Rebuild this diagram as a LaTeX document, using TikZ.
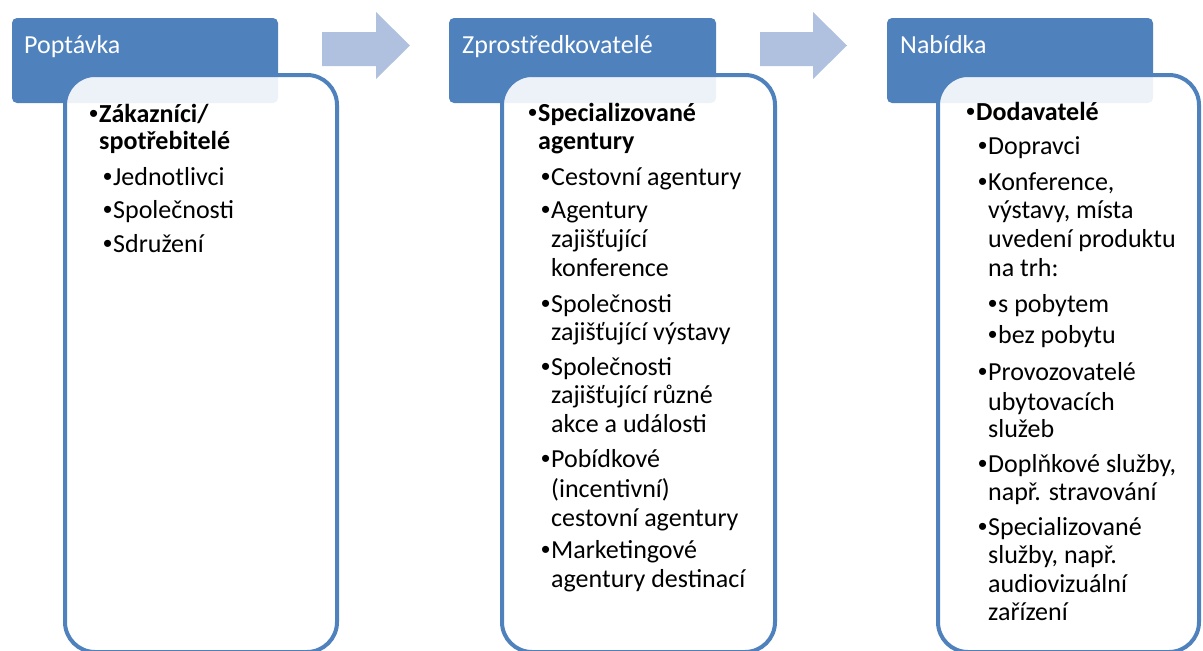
\documentclass[tikz,border=0pt]{standalone}
\usepackage{fontspec}
\setmainfont{Carlito}
\newfontfamily\bulfont{Liberation Sans}
\definecolor{hdr}{HTML}{4F81BD}
\definecolor{arr}{HTML}{AFC1DE}
\newcommand{\bul}{\makebox[10pt][l]{\bulfont\mdseries•}}
\begin{document}
\begin{tikzpicture}[x=1pt,y=-1pt,
  hdrbox/.style={fill=hdr, rounded corners=5pt},
  bodybox/.style={draw=hdr, line width=4pt, fill=white, fill opacity=0.9, rounded corners=30pt},
  bigarrow/.style={fill=arr},
  txt/.style={anchor=base west, inner sep=0pt, font=\fontsize{26}{30}\selectfont, text=black},
  htxt/.style={txt, text=white}]
\clip (0,0) rectangle (1203,651);
\useasboundingbox (0,0) rectangle (1203,651);

% arrows
\fill[bigarrow] (322,32) -- (376,32) -- (376,12) -- (410,45.5) -- (376,79) -- (376,66) -- (322,66) -- cycle;
\fill[bigarrow] (760,32) -- (813,32) -- (813,12) -- (847,45.5) -- (813,79) -- (813,66) -- (760,66) -- cycle;

% headers
\path[hdrbox] (12,18) rectangle (278,103);
\path[hdrbox] (449,18) rectangle (716,103);
\path[hdrbox] (887,18) rectangle (1153,103);

% body boxes
\path[bodybox] (65,75) rectangle (337,652);
\path[bodybox] (502,75) rectangle (775,652);
\path[bodybox] (938,75) rectangle (1199,652);

% header texts
\node[htxt] (h1) at (24,53) {Poptávka};
\node[htxt] (h2) at (462,53) {Zprostředkovatelé};
\node[htxt] (h3) at (900,53) {Nabídka};

% column 1
\foreach \x/\y/\t [count=\i] in {
  89/122/{\bul\bfseries Zákazníci/},
  99/149/{\bfseries spotřebitelé},
  103/185/{\bul Jednotlivci},
  103/218/{\bul Společnosti},
  103/252/{\bul Sdružení}}
  \node[txt] (a\i) at (\x,\y) {\t};

% column 2
\foreach \x/\y/\t [count=\i] in {
  528/121/{\bul\bfseries Specializované},
  538/149/{\bfseries agentury},
  541/185/{\bul Cestovní agentury},
  541/218/{\bul Agentury},
  551/247/{zajišťující},
  551/276/{konference},
  541/312/{\bul Společnosti},
  551/340/{zajišťující výstavy},
  541/375/{\bul Společnosti},
  551/403/{zajišťující různé},
  551/432/{akce a události},
  541/467/{\bul Pobídkové},
  551/497/{(incentivní)},
  551/526/{cestovní agentury},
  541/558/{\bul Marketingové},
  551/587/{agentury destinací}}
  \node[txt] (b\i) at (\x,\y) {\t};

% column 3
\foreach \x/\y/\t [count=\i] in {
  966/120/{\bul\bfseries Dodavatelé},
  978/154/{\bul Dopravci},
  978/190/{\bul Konference,},
  988/218/{výstavy, místa},
  988/247/{uvedení produktu},
  988/276/{na trh:},
  988/312/{\bul s pobytem},
  988/343/{\bul bez pobytu},
  978/380/{\bul Provozovatelé},
  988/410/{ubytovacích},
  988/437/{služeb},
  978/472/{\bul Doplňkové služby,},
  988/500/{např. stravování},
  978/535/{\bul Specializované},
  988/563/{služby, např.},
  988/592/{audiovizuální},
  988/620/{zařízení}}
  \node[txt] (c\i) at (\x,\y) {\t};
\end{tikzpicture}
\end{document}
